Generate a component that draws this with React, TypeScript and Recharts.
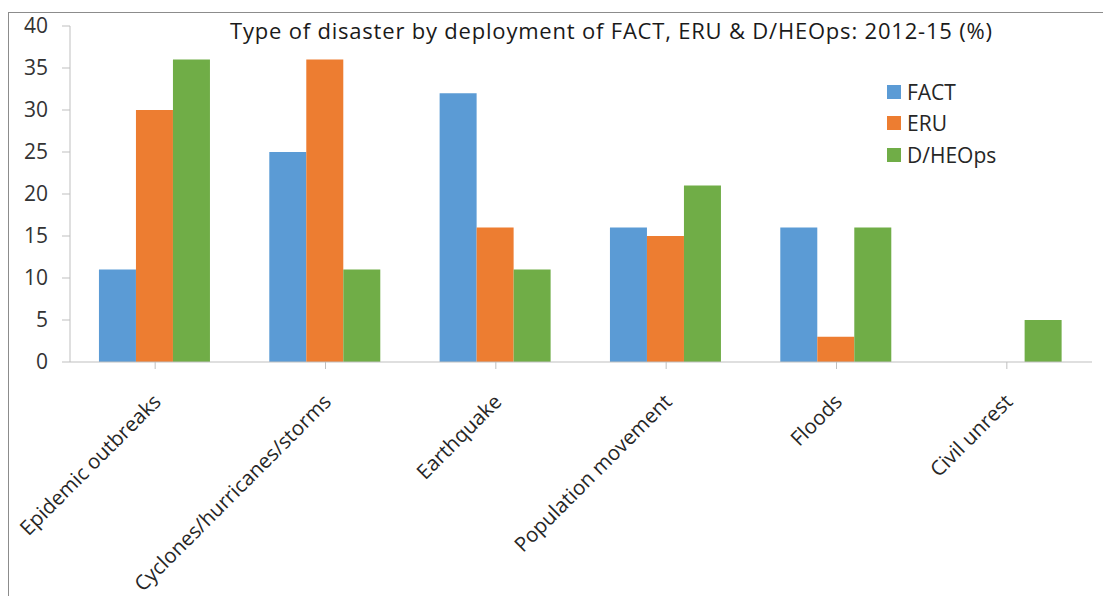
import React from "react";
import { BarChart, Bar, XAxis, YAxis } from "recharts";

const categories = [
  "Epidemic outbreaks",
  "Cyclones/hurricanes/storms",
  "Earthquake",
  "Population movement",
  "Floods",
  "Civil unrest",
];
const factValues = [11, 25, 32, 16, 16, 0];
const eruValues = [30, 36, 16, 15, 3, 0];
const dheopsValues = [36, 11, 11, 21, 16, 5];
const yTicks = [0, 5, 10, 15, 20, 25, 30, 35, 40];
const seriesNames = ["FACT", "ERU", "D/HEOps"];
const seriesColors = ["#5B9BD5", "#ED7D31", "#70AD47"];

const data = categories.map((name, i) => ({
  name,
  FACT: factValues[i],
  ERU: eruValues[i],
  "D/HEOps": dheopsValues[i],
}));

const FONT = "Open Sans, sans-serif";

const XTick = (props: any) => {
  const { x, y, payload } = props;
  return (
    <g transform={`translate(${x + 7},${y + 32})`}>
      <text
        transform="rotate(-45)"
        textAnchor="end"
        fontFamily={FONT}
        fontSize={20.5}
        fill="#262626"
      >
        {payload.value}
      </text>
    </g>
  );
};

export default function App() {
  return (
    <div
      style={{
        position: "absolute",
        left: 0,
        top: 0,
        width: 1103,
        height: 596,
        background: "#fff",
        overflow: "hidden",
      }}
    >
      <div
        style={{
          position: "absolute",
          left: 8,
          top: 12,
          width: 1200,
          height: 700,
          borderLeft: "1.5px solid #8c8c8c",
          borderTop: "1.5px solid #8c8c8c",
        }}
      />
      <BarChart
        width={1103}
        height={596}
        data={data}
        margin={{ top: 26, right: 11, left: 0, bottom: 0 }}
        barCategoryGap="17%"
        barGap={0}
        style={{ position: "absolute", left: 0, top: 0 }}
      >
        <YAxis
          width={70}
          domain={[0, 40]}
          ticks={yTicks}
          interval={0}
          tick={{ fontFamily: FONT, fontSize: 21, fill: "#333" }}
          tickLine={{ stroke: "#bfbfbf" }}
          axisLine={{ stroke: "#bfbfbf" }}
          tickSize={8}
          tickMargin={14}
        />
        <XAxis
          dataKey="name"
          height={234}
          interval={0}
          tick={<XTick />}
          tickLine={{ stroke: "#bfbfbf" }}
          axisLine={{ stroke: "#bfbfbf" }}
          tickSize={7}
        />
        {seriesNames.map((s, i) => (
          <Bar
            key={s}
            dataKey={s}
            fill={seriesColors[i]}
            isAnimationActive={false}
          />
        ))}
      </BarChart>
      <div
        style={{
          position: "absolute",
          left: 230,
          top: 15,
          fontFamily: FONT,
          fontSize: 22,
          letterSpacing: 0.8,
          color: "#1a1a1a",
          whiteSpace: "nowrap",
        }}
      >
        Type of disaster by deployment of FACT, ERU &amp; D/HEOps: 2012-15 (%)
      </div>
      <div style={{ position: "absolute", left: 887, top: 76 }}>
        {seriesNames.map((s, i) => (
          <div
            key={s}
            style={{
              display: "flex",
              alignItems: "center",
              height: 31.5,
              fontFamily: FONT,
              fontSize: 21,
              color: "#262626",
            }}
          >
            <span
              style={{
                display: "inline-block",
                width: 14,
                height: 14,
                background: seriesColors[i],
                marginRight: 6,
              }}
            />
            {s}
          </div>
        ))}
      </div>
    </div>
  );
}
